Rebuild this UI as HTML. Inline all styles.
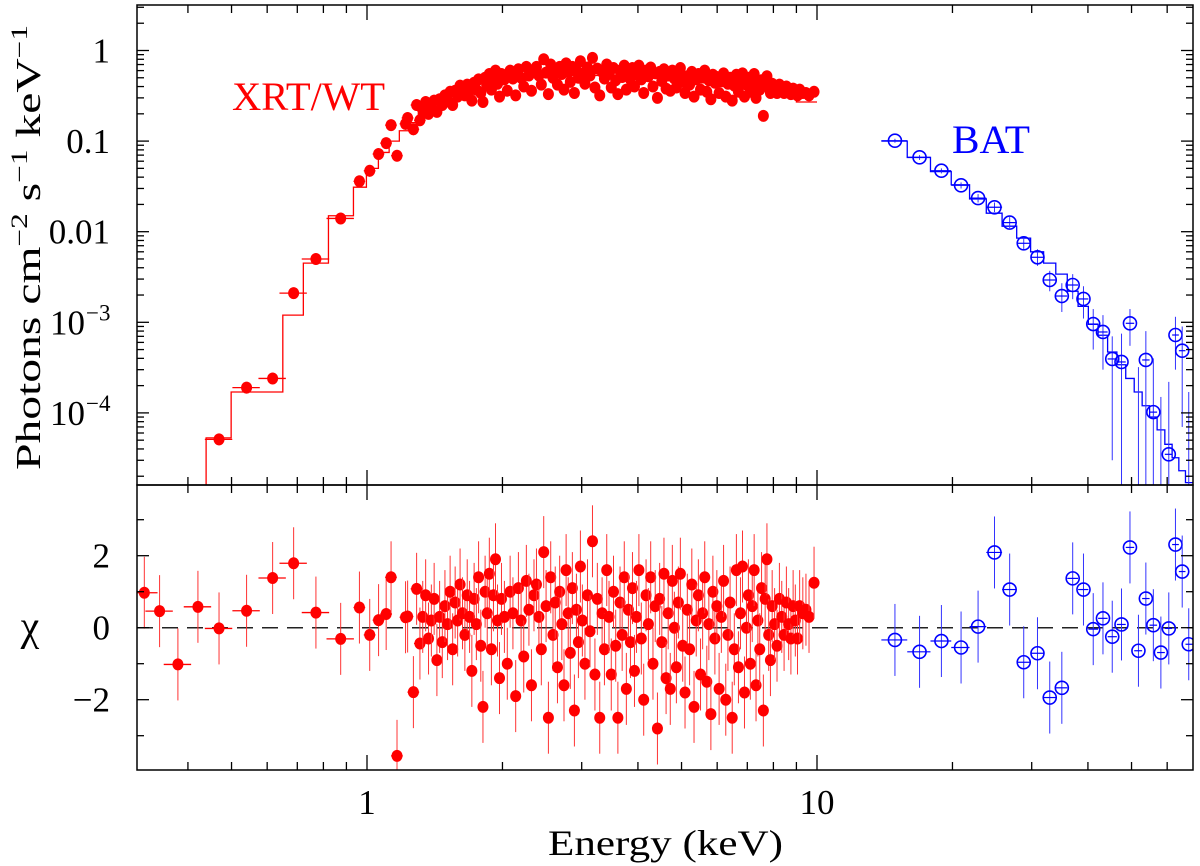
<!DOCTYPE html>
<html><head><meta charset="utf-8">
<style>
html,body{margin:0;padding:0;background:#fff;}
svg{display:block;font-family:"Liberation Serif",serif;}
text{font-family:"Liberation Serif",serif;}
</style></head>
<body>
<svg id="chart" width="1200" height="866" viewBox="0 0 1200 866" xmlns="http://www.w3.org/2000/svg">
<rect x="0" y="0" width="1200" height="866" fill="#fff"/>
<g id="plot"></g>
<g id="axes"></g>
<text x="232" y="110" font-size="40" fill="#f00" textLength="153" lengthAdjust="spacingAndGlyphs">XRT/WT</text>
<text x="952" y="153" font-size="40" fill="#00f" textLength="78" lengthAdjust="spacingAndGlyphs">BAT</text>
<text x="548" y="855" font-size="36" textLength="235" lengthAdjust="spacingAndGlyphs">Energy (keV)</text>
<text transform="translate(40,470) rotate(-90)" font-size="35" textLength="445" lengthAdjust="spacingAndGlyphs">Photons cm<tspan dy="-13" font-size="23">−2</tspan><tspan dy="13"> s</tspan><tspan dy="-13" font-size="23">−1</tspan><tspan dy="13"> keV</tspan><tspan dy="-13" font-size="23">−1</tspan></text>
<text x="30" y="640" font-size="42" text-anchor="middle">χ</text>
</svg>
<script>
// ---------- data ----------
const xrtE = [0.320,0.346,0.380,0.421,0.469,0.540,0.617,0.687,0.770,0.874,0.962,1.014,1.061,1.103,1.131,1.166,1.218,1.231,1.268,1.289,1.311,
1.33,1.35,1.37,1.39,1.41,1.43,1.45,1.47,1.49,1.51,1.53,1.55,1.57,1.59,1.61,1.63,1.65,1.67,1.69,1.71,1.73,1.75,1.77,1.79,1.81,1.83,1.85,1.87,1.89,1.91,1.93,1.95,1.97,1.99,
2.02,2.05,2.08,2.11,2.14,2.17,2.20,2.23,2.26,2.29,2.32,2.35,2.38,2.41,2.44,2.47,2.50,2.53,2.56,2.59,2.62,2.65,2.68,2.71,2.74,2.77,2.80,2.83,2.86,2.89,2.92,2.95,2.98,
3.01,3.05,3.09,3.13,3.17,3.21,3.25,3.29,3.33,3.37,3.41,3.45,3.49,3.53,3.57,3.61,3.65,3.69,3.73,3.77,3.81,3.85,3.89,3.93,3.97,
4.02,4.07,4.12,4.17,4.22,4.27,4.32,4.37,4.42,4.47,4.52,4.57,4.62,4.67,4.72,4.77,4.82,4.87,4.92,4.97,
5.03,5.09,5.15,5.21,5.27,5.33,5.39,5.45,5.51,5.57,5.63,5.69,5.75,5.81,5.87,5.93,5.99,
6.06,6.13,6.20,6.27,6.34,6.41,6.48,6.55,6.62,6.69,6.76,6.83,6.90,6.97,
7.04,7.11,7.18,7.25,7.32,7.39,7.46,7.53,7.60,7.67,7.74,7.81,7.88,7.95,
8.05,8.15,8.25,8.35,8.45,8.55,8.65,8.75,8.85,8.95,9.05,9.15,9.30,9.45,9.60,9.85];
const xrtFlux = [1e-6,1e-6,1e-6,1e-6,5.1e-5,1.9e-4,2.4e-4,2.1e-3,5.0e-3,0.014,0.036,0.047,0.072,0.095,0.15,0.069,0.155,0.18,0.135,0.25,0.17,
0.22,0.27,0.20,0.24,0.28,0.21,0.29,0.25,0.32,0.28,0.35,0.25,0.36,0.31,0.41,0.35,0.32,0.42,0.36,0.28,0.44,0.37,0.48,0.34,0.27,0.50,0.41,0.55,0.37,0.50,0.60,0.43,0.31,0.55,
0.48,0.36,0.60,0.49,0.32,0.62,0.50,0.40,0.66,0.53,0.36,0.60,0.66,0.53,0.42,0.80,0.57,0.33,0.70,0.50,0.60,0.42,0.66,0.55,0.37,0.72,0.58,0.45,0.66,0.34,0.60,0.50,0.76,
0.56,0.43,0.65,0.53,0.83,0.39,0.63,0.32,0.58,0.49,0.70,0.55,0.39,0.64,0.47,0.33,0.60,0.51,0.68,0.37,0.57,0.48,0.64,0.40,0.55,
0.68,0.48,0.34,0.60,0.52,0.65,0.40,0.56,0.30,0.58,0.46,0.62,0.38,0.53,0.36,0.60,0.49,0.39,0.55,0.64,
0.45,0.34,0.52,0.42,0.58,0.31,0.48,0.55,0.37,0.51,0.60,0.35,0.47,0.29,0.54,0.44,0.51,
0.34,0.46,0.56,0.31,0.43,0.50,0.28,0.41,0.54,0.35,0.46,0.56,0.31,0.42,
0.50,0.35,0.45,0.55,0.30,0.41,0.37,0.47,0.19,0.44,0.52,0.39,0.34,0.43,
0.39,0.34,0.42,0.37,0.34,0.40,0.35,0.33,0.38,0.35,0.32,0.37,0.34,0.34,0.32,0.35];
const xrtChi = [0.97,0.46,-1.02,0.58,-0.02,0.47,1.38,1.79,0.42,-0.31,0.56,-0.20,0.21,0.38,1.40,-3.56,0.29,0.31,-1.79,1.08,-0.44,
0.3,0.9,-0.3,0.2,0.8,-0.9,0.3,-0.4,0.6,0.1,1.0,-0.6,0.7,0.2,1.2,0.4,-0.2,0.9,0.3,-1.2,0.8,0.1,1.4,-0.5,-2.2,1.0,0.4,1.5,-0.6,0.9,1.9,0.2,-1.4,0.8,
0.3,-1.0,1.0,0.4,-1.9,1.1,0.2,-0.8,1.3,0.5,-1.6,0.9,1.2,0.3,-0.6,2.1,0.6,-2.5,1.4,-0.2,0.7,-1.1,1.0,0.1,-1.6,1.6,0.4,-0.7,1.1,-2.3,0.5,-0.4,1.7,
0.2,-1.0,0.9,-0.1,2.4,-1.3,0.8,-2.5,0.4,-0.6,1.6,0.3,-1.3,1.0,-0.5,-2.5,0.7,-0.2,1.4,-1.7,0.5,-0.4,1.1,-1.2,0.3,
1.6,-0.3,-2.0,0.9,0.1,1.4,-1.0,0.6,-2.8,0.8,-0.4,1.5,-1.4,0.4,-1.7,1.3,0.0,-1.1,0.7,1.5,
-0.5,-1.8,0.5,-0.6,1.2,-2.2,0.2,0.9,-1.3,0.4,1.4,-1.5,0.1,-2.4,1.0,-0.3,0.6,
-1.7,0.3,1.3,-2.0,-0.2,0.7,-2.5,-0.6,1.6,-1.1,0.4,1.7,-1.8,0.0,
0.9,-1.0,0.6,1.6,-1.6,0.2,-0.6,1.1,-2.3,0.8,1.9,-0.2,-0.9,0.6,
0.1,-0.5,0.8,0.3,-0.2,0.7,0.1,-0.3,0.6,0.2,-0.3,0.6,0.4,0.5,0.3,1.25];
const xrtModelEdges = [0.439,0.499,0.578,0.650,0.722,0.821,0.933,0.997,1.06,1.12,1.18,1.25,1.3,1.4,1.5,1.6,1.7,1.8,2.0,2.3,2.6,3.0,3.5,4,4.5,5,6,7,8,9,10.0];
const xrtModelVals = [5.3e-5,1.7e-4,1.7e-4,1.2e-3,4.5e-3,0.015,0.031,0.05,0.075,0.1,0.13,0.16,0.2,0.24,0.29,0.34,0.38,0.42,0.47,0.51,0.53,0.53,0.52,0.5,0.47,0.44,0.4,0.36,0.32,0.27];

const batE = [14.9,16.9,18.9,20.9,22.8,24.8,26.8,28.8,30.9,32.9,35.0,37.0,39.1,41.1,43.2,45.3,47.5,49.6,51.8,53.8,55.9,58.1,60.5,62.6,64.8,67.0];
const batFlux = [0.101,0.0662,0.0471,0.0325,0.0235,0.0186,0.0126,0.00745,0.00522,0.00293,0.00195,0.00258,0.00181,0.000957,0.000782,0.000394,0.000365,0.000975,0,0.000384,0.000102,0,3.49e-5,0.000724,0.000486,0];
const batHi = [0.106,0.070,0.050,0.035,0.026,0.021,0.0145,0.0088,0.0064,0.0037,0.0027,0.0034,0.0025,0.0014,0.0012,0.0007,0.00075,0.0014,0.00032,0.0008,0.0004,0.00015,0.00022,0.00115,0.0009,0.00017];
const batLo = [0.096,0.062,0.044,0.030,0.021,0.0165,0.011,0.0062,0.0042,0.0022,0.0013,0.0018,0.0011,0.0005,0.0003,0.00003,0,0.00055,0,0,0,0,0,0.0003,0.00007,0];
const batChi = [-0.34,-0.67,-0.37,-0.55,0.03,2.09,1.06,-0.96,-0.71,-1.94,-1.67,1.37,1.06,-0.04,0.26,-0.25,0.09,2.23,-0.64,0.81,0.07,-0.69,-0.02,2.31,1.56,-0.46];
const batModel = [0.1,0.066,0.046,0.033,0.023,0.016,0.0115,0.0085,0.006,0.0045,0.0034,0.0022,0.0015,0.00095,0.00072,0.00047,0.00034,0.00024,0.00017,0.00012,9e-5,6.5e-5,4.5e-5,3.2e-5,2.3e-5,1.7e-5];

const yTopTicks = [1,0.1,0.01,0.001,0.0001];
const yTopLabels = ["1","0.1","0.01","10|−3","10|−4"];
const chiTicks = [2,0,-2];
const chiLabels = ["2","0","−2"];
const xTickVals = [1,10];
const xTickLabels = ["1","10"];

// ---------- scales ----------
const L=137,R=1193,T=5,M=485,B=770;
const X0=367, DEC=450;
const sx = e => X0 + Math.log10(e)*DEC;
const TOPY=50.5, YDEC=90.6;
const sy = f => TOPY - Math.log10(f)*YDEC;
const CHI0=627.7, CHIU=36;
const sc = c => CHI0 - c*CHIU;
const NS="http://www.w3.org/2000/svg";
const plot=document.getElementById('plot');
const axes=document.getElementById('axes');
function mk(tag,attrs,parent){const el=document.createElementNS(NS,tag);for(const k in attrs)el.setAttribute(k,attrs[k]);(parent||plot).appendChild(el);return el;}
function clampTop(y){return Math.max(T,Math.min(M,y));}
function fy(f){return f>0?clampTop(sy(f)):M;}

const defs=mk('defs',{},document.getElementById('chart'));
const c1=mk('clipPath',{id:'cTop'},defs); mk('rect',{x:L,y:T,width:R-L,height:M-T},c1);
const c2=mk('clipPath',{id:'cBot'},defs); mk('rect',{x:L,y:M,width:R-L,height:B-M},c2);
const gTop=mk('g',{'clip-path':'url(#cTop)'});


const gBot=mk('g',{'clip-path':'url(#cBot)'});



const zl=mk('line',{x1:L,x2:R,y1:sc(0),y2:sc(0),stroke:'#222','stroke-width':1.5,'stroke-dasharray':'16,9'},gBot);



let d='M'+sx(xrtModelEdges[0])+','+M;
for(let i=0;i<xrtModelVals.length;i++){const y=fy(xrtModelVals[i]);d+=' L'+sx(xrtModelEdges[i])+','+y+' L'+sx(xrtModelEdges[i+1])+','+y;}
const xm=mk('path',{d:d,fill:'none',stroke:'#f00','stroke-width':1.3},gTop);



const bEdges=[13.9];
for(let i=0;i<batE.length-1;i++)bEdges.push(Math.sqrt(batE[i]*batE[i+1]));
bEdges.push(69);
d='';
for(let i=0;i<batModel.length;i++){const y=fy(batModel[i]);d+=(i?' L':'M')+sx(bEdges[i])+','+y+' L'+sx(bEdges[i+1])+','+y;}
const bm=mk('path',{d:d,fill:'none',stroke:'#00f','stroke-width':1.3},gTop);



for(let i=0;i<xrtE.length;i++){
  const e=xrtE[i], f=xrtFlux[i], c=xrtChi[i];
  const w = e<0.9?0.07:(e<1.32?0.03:0.008);
  const x=sx(e), x1=sx(e*(1-w)), x2=sx(e*(1+w));
  const rel = e<1.32?0.14:0.12;
  if(f>0){
    const y=sy(f);
    mk('line',{x1:x,x2:x,y1:fy(f*(1-rel)),y2:fy(f*(1+rel)),stroke:'#f00','stroke-width':1},gTop);
    mk('line',{x1:x1,x2:x2,y1:y,y2:y,stroke:'#f00','stroke-width':1.3},gTop);
    const p=mk('ellipse',{cx:x,cy:y,rx:5.5,ry:6,fill:'#f00'},gTop);
    
    
  }
  const yc=sc(c);
  mk('line',{x1:x,x2:x,y1:sc(c-1),y2:sc(c+1),stroke:'#f33','stroke-width':1},gBot);
  mk('line',{x1:x1,x2:x2,y1:yc,y2:yc,stroke:'#f00','stroke-width':1.3},gBot);
  const q=mk('ellipse',{cx:x,cy:yc,rx:5.5,ry:6,fill:'#f00'},gBot);
  
  
}

for(let i=0;i<batE.length;i++){
  const x=sx(batE[i]), x1=sx(bEdges[i]), x2=sx(bEdges[i+1]);
  mk('line',{x1:x,x2:x,y1:fy(batLo[i]),y2:fy(batHi[i]),stroke:'#33f','stroke-width':1},gTop);
  if(batFlux[i]>0){
    const y=sy(batFlux[i]);
    mk('line',{x1:x1,x2:x2,y1:y,y2:y,stroke:'#00f','stroke-width':1.2},gTop);
    const p=mk('circle',{cx:x,cy:y,r:6.5,fill:'none',stroke:'#00f','stroke-width':1.6},gTop);
    
    
  }
  const yc=sc(batChi[i]);
  mk('line',{x1:x,x2:x,y1:sc(batChi[i]-1),y2:sc(batChi[i]+1),stroke:'#33f','stroke-width':1},gBot);
  mk('line',{x1:x1,x2:x2,y1:yc,y2:yc,stroke:'#00f','stroke-width':1.2},gBot);
  const q=mk('circle',{cx:x,cy:yc,r:6.5,fill:'none',stroke:'#00f','stroke-width':1.6},gBot);
  
  
}

// ---------- axes ----------
const fr1=mk('rect',{x:L,y:T,width:R-L,height:M-T,fill:'none',stroke:'#000','stroke-width':1.5},axes);


const fr2=mk('rect',{x:L,y:M,width:R-L,height:B-M,fill:'none',stroke:'#000','stroke-width':1.5},axes);


for(let dec=0.1;dec<100;dec*=10){
  for(let k=1;k<10;k++){
    const v=dec*k, x=sx(v);
    if(x<L+1||x>R-1)continue;
    const len=(k===1)?15:8;
    [[T,1],[M,-1],[M,1],[B,-1]].forEach(([y0,s])=>mk('line',{x1:x,x2:x,y1:y0,y2:y0+s*len,stroke:'#000','stroke-width':1.3},axes));
  }
}
const FF='"Liberation Serif",serif';
for(let i=0;i<xTickVals.length;i++){
  const t=mk('text',{x:sx(xTickVals[i]),y:814,'font-size':35,'text-anchor':'middle','font-family':FF},axes);
  t.textContent=xTickLabels[i];
  
  
}
for(let p=-5;p<=0;p++){
  for(let k=1;k<10;k++){
    const v=Math.pow(10,p)*k, y=sy(v);
    if(y<T+1||y>M-1)continue;
    const len=(k===1)?12:7;
    mk('line',{x1:L,x2:L+len,y1:y,y2:y,stroke:'#000','stroke-width':1.3},axes);
    mk('line',{x1:R,x2:R-len,y1:y,y2:y,stroke:'#000','stroke-width':1.3},axes);
  }
}
for(let i=0;i<yTopTicks.length;i++){
  const parts=yTopLabels[i].split('|');
  const t=mk('text',{x:110,y:sy(yTopTicks[i])+12,'font-size':35,'text-anchor':'end','font-family':FF},axes);
  
  
  if(parts.length===1){t.textContent=parts[0];}
  else{
    t.setAttribute('x',85);
    t.textContent=parts[0];
    const s=mk('text',{x:86,y:sy(yTopTicks[i])-2,'font-size':23,'text-anchor':'start','font-family':FF},axes);
    s.textContent=parts[1];
  }
}
for(let c=-4;c<=4;c++){
  const y=sc(c); if(y<M+1||y>B-1)continue;
  const len=(c%2===0)?12:7;
  mk('line',{x1:L,x2:L+len,y1:y,y2:y,stroke:'#000','stroke-width':1.3},axes);
  mk('line',{x1:R,x2:R-len,y1:y,y2:y,stroke:'#000','stroke-width':1.3},axes);
}
for(let i=0;i<chiTicks.length;i++){
  const t=mk('text',{x:110,y:sc(chiTicks[i])+12,'font-size':35,'text-anchor':'end','font-family':FF},axes);
  t.textContent=chiLabels[i];
  
  
}
</script>
</body></html>
